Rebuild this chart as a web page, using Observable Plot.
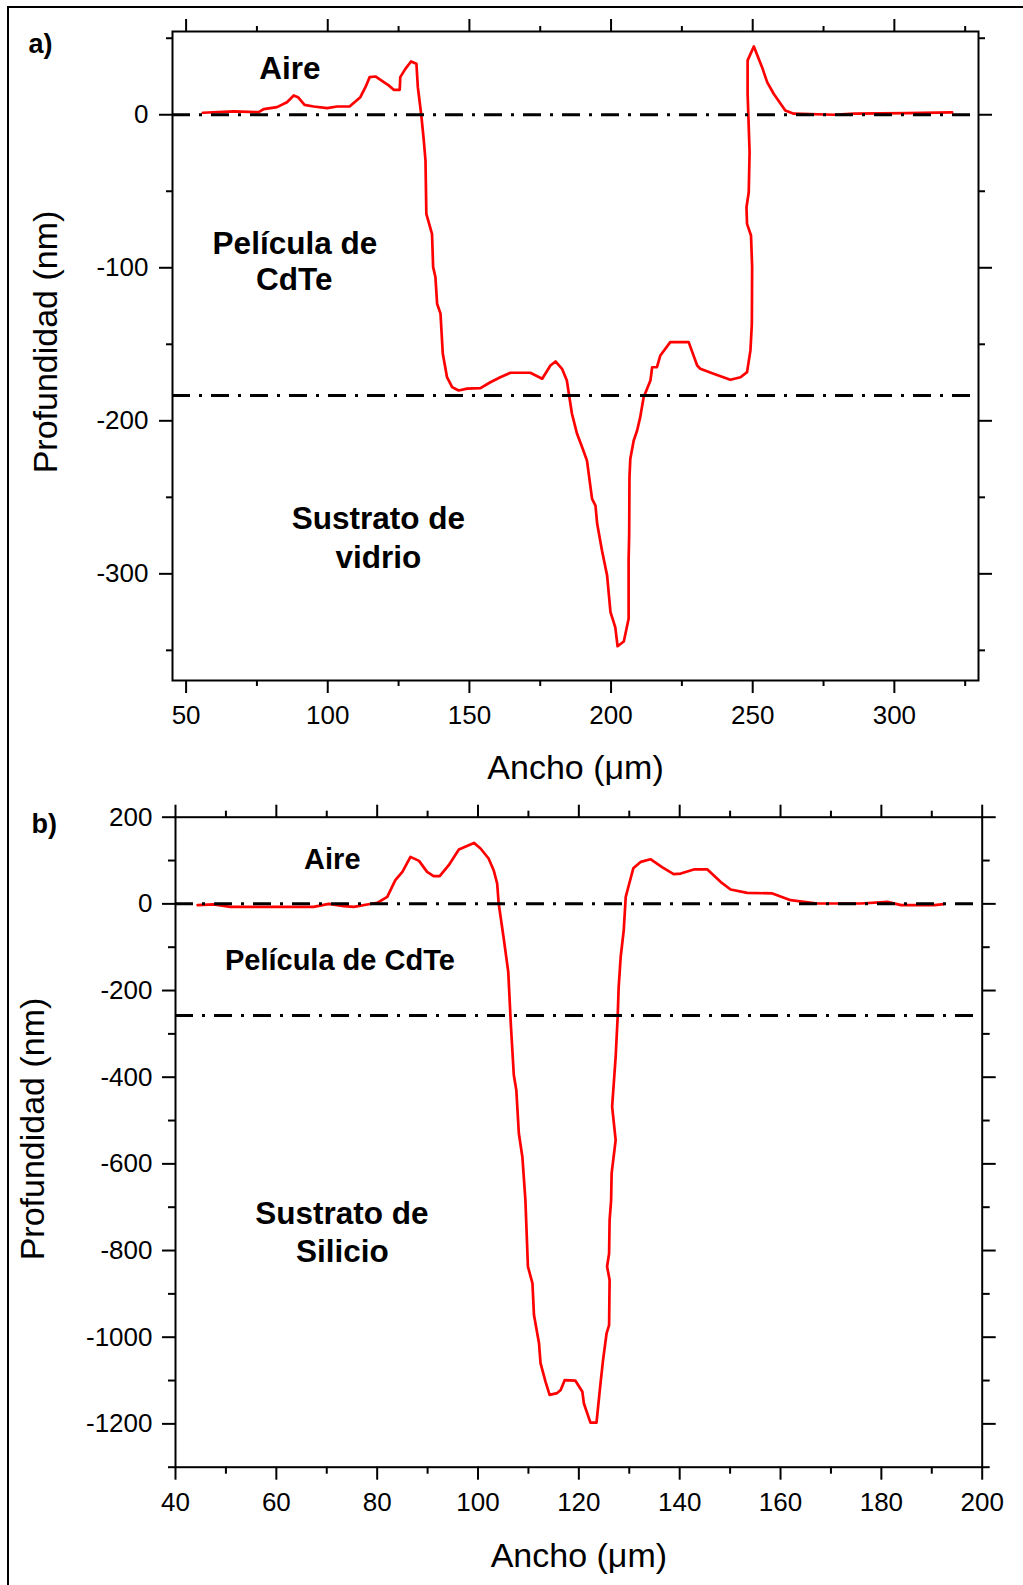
<!DOCTYPE html>
<html>
<head>
<meta charset="utf-8">
<script src="https://cdn.jsdelivr.net/npm/d3@7"></script>
<script src="https://cdn.jsdelivr.net/npm/@observablehq/plot@0.6"></script>
<style>
  html, body { margin: 0; padding: 0; background: white; }
  body { width: 1023px; height: 1585px; overflow: hidden; position: relative; }
  #a, #b { position: absolute; left: 0; }
  #a { top: 0; }
  #b { top: 790px; }
  #border { position: absolute; left: 7px; top: 6px; width: 1100px; height: 1700px; border: 2px solid black; pointer-events: none; }
</style>
</head>
<body>
<div id="a"></div>
<div id="b"></div>
<div id="border"></div>
<script>
// ---------- Panel a) data : CdTe film on glass ----------
const aWidth = [55.9, 66.8, 75.6, 77.4, 82.1, 85.6, 88.0, 89.5, 91.8, 95.0, 99.8, 103.3, 107.7, 111.5, 113.3, 114.8, 116.8, 121.5, 123.3, 125.4, 125.6, 127.4, 129.4, 131.3, 131.8, 133.0, 133.9, 134.5, 134.8, 136.8, 137.2, 138.0, 138.6, 139.8, 140.6, 142.1, 143.9, 146.2, 149.2, 153.9, 157.4, 160.9, 164.5, 171.5, 175.7, 178.6, 180.4, 182.7, 184.4, 185.2, 186.2, 188.0, 189.8, 191.5, 193.3, 194.5, 195.1, 196.8, 198.6, 199.8, 201.5, 202.3, 204.5, 206.2, 206.2, 206.4, 206.5, 206.8, 208.0, 209.2, 210.3, 211.5, 213.9, 214.5, 216.2, 217.4, 220.9, 227.4, 230.4, 231.5, 236.2, 242.1, 245.7, 248.0, 249.2, 249.7, 249.8, 249.4, 248.0, 247.8, 248.6, 248.9, 248.2, 248.2, 250.4, 253.3, 255.1, 257.4, 261.5, 264.5, 278.6, 285.7, 304.5, 320.4];
const aDepth = [1.3, 2.2, 1.7, 3.7, 5.0, 8.2, 12.6, 11.5, 6.5, 5.4, 4.3, 5.4, 5.4, 11.5, 18.0, 24.6, 25.0, 19.2, 16.3, 16.3, 24.6, 30.0, 34.8, 33.3, 18.0, 0, -16.8, -29.9, -64.7, -77.8, -99.6, -106, -123.5, -130, -156, -171.5, -178, -180.2, -179, -178.7, -174.8, -171.5, -168.6, -168.6, -172.5, -163.9, -161.2, -166, -173.7, -183.5, -195.4, -208.5, -217.3, -226, -251, -255.4, -267.3, -284.8, -301, -325, -335, -347.3, -344.2, -329.4, -291.3, -273.9, -236.9, -224.8, -212.9, -206.3, -197.6, -184.6, -173.7, -165, -165, -157.3, -148.6, -148.6, -163.9, -166, -169.3, -173.2, -171.5, -168.2, -154, -136.6, -99.6, -78.9, -71.3, -60.4, -50.6, -24.4, 13.7, 35.5, 44.6, 31.1, 21.3, 13.7, 2.8, 0.7, 0, 0.7, 1.0, 1.5];
const aInterfaces = [0, -183.5];
const aXMajor = [50, 100, 150, 200, 250, 300];
const aXMinor = [75, 125, 175, 225, 275, 325];
const aYMajor = [0, -100, -200, -300];
const aYMinor = [50, -50, -150, -250, -350];
const aNotes = [
  {label: "Aire", x: 86.6, y: 23.1},
  {label: "Película de", x: 88.4, y: -90.7},
  {label: "CdTe", x: 88.2, y: -114.8},
  {label: "Sustrato de", x: 117.9, y: -270.4},
  {label: "vidrio", x: 117.9, y: -295.9}
];

// ---------- Panel b) data : CdTe film on silicon ----------
const bWidth = [44.4, 47.6, 50.9, 67.4, 70.4, 73.4, 75.4, 78.0, 80.0, 82.0, 83.6, 85.0, 86.6, 88.3, 89.9, 91.2, 92.4, 94.2, 96.2, 99.2, 100.5, 102.1, 103.1, 103.8, 104.1, 105.1, 106.0, 106.5, 107.1, 107.6, 108.1, 108.8, 109.4, 109.9, 110.8, 111.1, 112.1, 112.4, 113.4, 114.2, 115.7, 116.4, 117.2, 119.3, 120.7, 121.0, 122.3, 123.5, 124.3, 124.8, 125.5, 126.0, 126.1, 125.6, 126.0, 126.1, 126.4, 126.5, 127.3, 126.6, 127.3, 127.7, 127.9, 128.3, 128.9, 129.3, 130.0, 130.8, 132.3, 134.2, 136.5, 138.8, 140.2, 142.8, 145.5, 148.1, 150.1, 153.4, 158.4, 162.0, 167.3, 175.9, 181.2, 183.9, 190.5, 192.4];
const bDepth = [-3, -1.4, -6.9, -6.9, 0, -5.3, -6.9, -1.4, 2.3, 16, 54.7, 73.8, 108.4, 99.2, 73.8, 63.9, 63.9, 89.3, 125.5, 140.7, 127.8, 104.7, 77.7, 47, 0.9, -80, -157, -276, -395, -430, -530, -584, -684, -837, -876, -949, -1014, -1060, -1103, -1133, -1129, -1122, -1099, -1100, -1126, -1153, -1197, -1197, -1106, -1053, -991, -972, -868, -837, -807, -730, -684, -622, -545, -468, -353, -261, -192, -122, -61, 16, 47, 82, 97, 103, 85, 68.5, 70, 79.4, 79.4, 50.8, 33.2, 25.4, 24, 8.5, 0.9, 0.9, 4.6, -3, -3, -0.7];
const bInterfaces = [0, -257.5];
const bXMajor = [40, 60, 80, 100, 120, 140, 160, 180, 200];
const bXMinor = [50, 70, 90, 110, 130, 150, 170, 190];
const bYMajor = [200, 0, -200, -400, -600, -800, -1000, -1200];
const bYMinor = [100, -100, -300, -500, -700, -900, -1100, -1300];
const bNotesTop = [
  {label: "Aire", x: 71.1, y: 80.1},
  {label: "Película de CdTe", x: 72.6, y: -152.9}
];
const bNotesBottom = [
  {label: "Sustrato de", x: 73.0, y: -738.9},
  {label: "Silicio", x: 73.1, y: -826.6}
];

const xTitle = "Ancho (μm)";
const yTitle = "Profundidad (nm)";
const fontFamily = '"Liberation Sans", Arial, Helvetica, sans-serif';
const fmt = d => String(d);

function axes(xMajor, xMinor, yMajor, yMinor, major, minor, xPad, yPad) {
  const common = {strokeWidth: 2, stroke: "black", label: null};
  return [
    Plot.axisX(xMajor, {...common, anchor: "bottom", tickSize: major, tickPadding: xPad, fontSize: 26, fill: "black", tickFormat: fmt}),
    Plot.axisX(xMinor, {...common, anchor: "bottom", tickSize: minor, fill: "none"}),
    Plot.axisX(xMajor, {...common, anchor: "top", tickSize: major, fill: "none"}),
    Plot.axisX(xMinor, {...common, anchor: "top", tickSize: minor, fill: "none"}),
    Plot.axisY(yMajor, {...common, anchor: "left", tickSize: major, tickPadding: yPad, fontSize: 26, fill: "black", tickFormat: fmt}),
    Plot.axisY(yMinor, {...common, anchor: "left", tickSize: minor, fill: "none"}),
    Plot.axisY(yMajor, {...common, anchor: "right", tickSize: major, fill: "none"}),
    Plot.axisY(yMinor, {...common, anchor: "right", tickSize: minor, fill: "none"})
  ];
}

const plotA = Plot.plot({
  width: 1023, height: 790,
  marginLeft: 172, marginRight: 45, marginTop: 31, marginBottom: 110,
  x: {domain: [45.2, 329.7]},
  y: {domain: [-369.7, 54.4]},
  style: {fontFamily, background: "transparent", color: "black", overflow: "visible"},
  marks: [
    Plot.line(aWidth, {x: aWidth, y: aDepth, stroke: "#ff0000", strokeWidth: 2.7}),
    Plot.ruleY(aInterfaces, {stroke: "black", strokeWidth: 3, strokeDasharray: "18,9,3,9"}),
    ...axes(aXMajor, aXMinor, aYMajor, aYMinor, 13, 6, 12, 11),
    Plot.frame({stroke: "black", strokeWidth: 2}),
    Plot.text(aNotes, {x: "x", y: "y", text: "label", fontSize: 31.5, fontWeight: "bold", lineAnchor: "bottom", fill: "black"}),
    Plot.text(["a)"], {text: d => d, frameAnchor: "top-left", dx: -144, dy: 21, textAnchor: "start", lineAnchor: "bottom", fontSize: 27, fontWeight: "bold", fill: "black"}),
    Plot.text([xTitle], {text: d => d, frameAnchor: "bottom", dy: 98, textAnchor: "middle", lineAnchor: "bottom", fontSize: 34, fill: "black"}),
    Plot.text([yTitle], {text: d => d, frameAnchor: "left", rotate: -90, dx: -126, dy: -14, textAnchor: "middle", lineAnchor: "middle", fontSize: 34, fill: "black"})
  ]
});
document.getElementById("a").appendChild(plotA);

const plotB = Plot.plot({
  width: 1023, height: 795,
  marginLeft: 175, marginRight: 41.3, marginTop: 26.7, marginBottom: 118.3,
  x: {domain: [40, 200]},
  y: {domain: [-1300, 200]},
  style: {fontFamily, background: "transparent", color: "black", overflow: "visible"},
  marks: [
    Plot.line(bWidth, {x: bWidth, y: bDepth, stroke: "#ff0000", strokeWidth: 2.7}),
    Plot.ruleY(bInterfaces, {stroke: "black", strokeWidth: 3, strokeDasharray: "18,9,3,9"}),
    ...axes(bXMajor, bXMinor, bYMajor, bYMinor, 13, 7, 12.5, 10),
    Plot.frame({stroke: "black", strokeWidth: 2}),
    Plot.text(bNotesTop, {x: "x", y: "y", text: "label", fontSize: 29, fontWeight: "bold", lineAnchor: "bottom", fill: "black"}),
    Plot.text(bNotesBottom, {x: "x", y: "y", text: "label", fontSize: 31.5, fontWeight: "bold", lineAnchor: "bottom", fill: "black"}),
    Plot.text(["b)"], {text: d => d, frameAnchor: "top-left", dx: -144, dy: 15.3, textAnchor: "start", lineAnchor: "bottom", fontSize: 27, fontWeight: "bold", fill: "black"}),
    Plot.text([xTitle], {text: d => d, frameAnchor: "bottom", dy: 99.3, textAnchor: "middle", lineAnchor: "bottom", fontSize: 34, fill: "black"}),
    Plot.text([yTitle], {text: d => d, frameAnchor: "left", rotate: -90, dx: -142.4, dy: -13.2, textAnchor: "middle", lineAnchor: "middle", fontSize: 34, fill: "black"})
  ]
});
document.getElementById("b").appendChild(plotB);
</script>
</body>
</html>
